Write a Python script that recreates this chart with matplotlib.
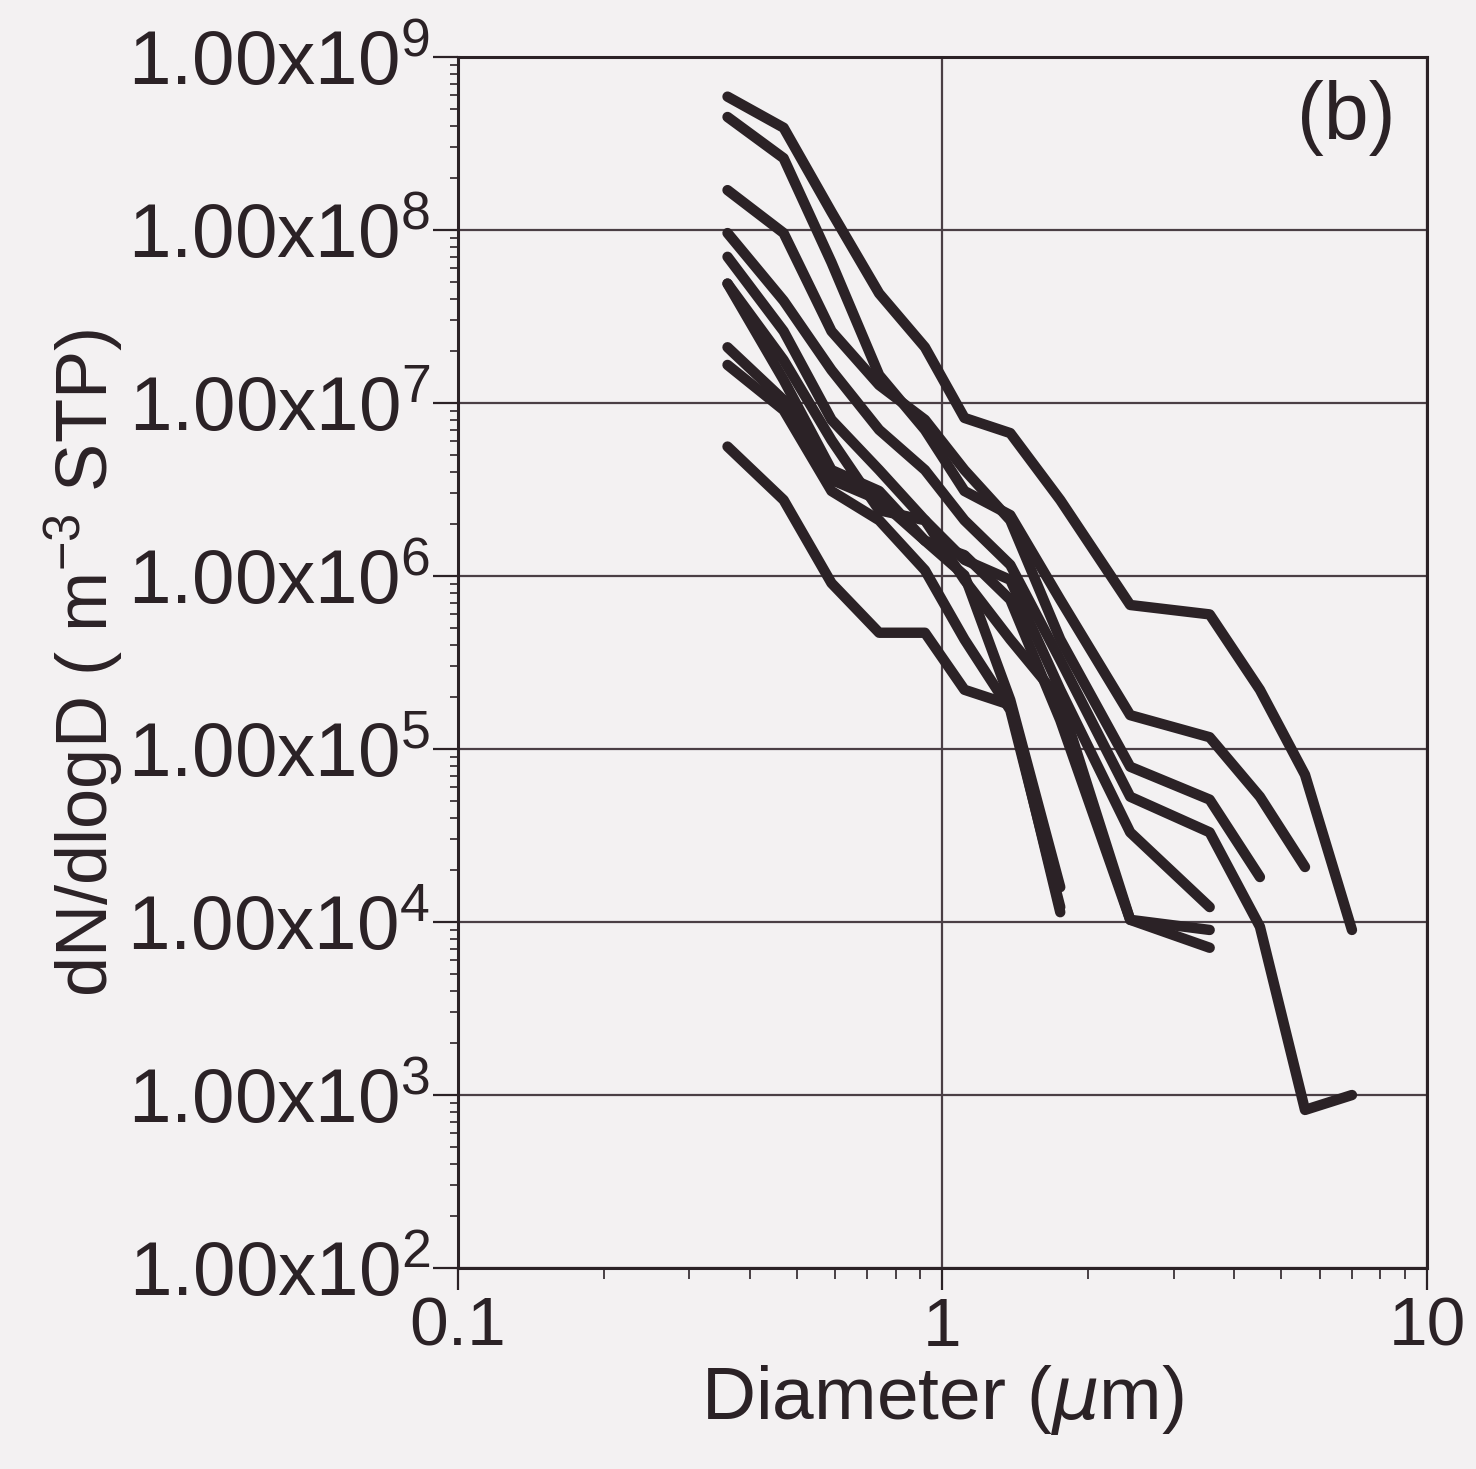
import numpy as np
import matplotlib
matplotlib.use("Agg")
import matplotlib.pyplot as plt
from matplotlib.ticker import FixedLocator, FuncFormatter, NullFormatter

plt.rcParams['font.family'] = ['Liberation Sans', 'DejaVu Sans']
plt.rcParams['mathtext.default'] = 'regular'

# ------------------ DATA ------------------ #
# size channels (um)
diam = [0.36, 0.47, 0.59, 0.74, 0.92, 1.11, 1.38, 1.75, 2.44, 3.56, 4.52, 5.6, 7.0]

# dN/dlogD (m^-3 STP), one list per size distribution
dist_a = [5.9e8, 3.9e8, 1.27e8, 4.3e7, 2.1e7, 8.2e6, 6.7e6, 2.75e6, 6.8e5, 6.0e5, 2.2e5, 7.1e4, 9.0e3]
dist_b = [4.5e8, 2.6e8, 6.5e7, 1.45e7, 7.0e6, 3.1e6, 2.25e6, 7.3e5, 1.57e5, 1.17e5, 5.3e4, 2.08e4]
dist_c = [1.7e8, 9.6e7, 2.6e7, 1.27e7, 8.0e6, 4.1e6, 2.1e6, 4.3e5, 7.9e4, 5.1e4, 1.82e4]
dist_d = [9.6e7, 3.9e7, 1.55e7, 7.0e6, 4.1e6, 2.1e6, 1.16e6, 3.27e5, 5.3e4, 3.3e4, 9.4e3, 8.2e2, 1.0e3]
dist_e = [7.0e7, 2.6e7, 8.0e6, 4.1e6, 2.1e6, 1.24e6, 9.5e5, 2.2e5, 3.3e4, 1.22e4]
dist_f = [4.9e7, 1.36e7, 4.1e6, 3.1e6, 1.6e6, 1.32e6, 7.3e5, 1.47e5, 1.03e4, 9.0e3]
dist_g = [4.9e7, 1.77e7, 6.1e6, 2.4e6, 2.1e6, 9.5e5, 4.3e5, 1.92e5, 1.03e4, 7.1e3]
dist_h = [2.1e7, 1.04e7, 3.6e6, 2.75e6, 1.6e6, 1.01e6, 1.92e5, 1.59e4]
dist_i = [1.66e7, 9.1e6, 3.1e6, 2.1e6, 1.08e6, 4.3e5, 1.68e5, 1.22e4]
dist_j = [5.6e6, 2.75e6, 9.1e5, 4.7e5, 4.7e5, 2.2e5, 1.8e5, 1.14e4]

all_dists = [dist_a, dist_b, dist_c, dist_d, dist_e, dist_f, dist_g, dist_h, dist_i, dist_j]

y_decades = [2, 3, 4, 5, 6, 7, 8, 9]
x_major = [0.1, 1, 10]
x_labels = ["0.1", "1", "10"]
panel_label = "(b)"

# ------------------ PLOTTING ------------------ #
bg = '#f3f1f2'
ink = '#2b2226'

fig = plt.figure(figsize=(14.76, 14.69), dpi=100, facecolor=bg)
ax = fig.add_axes([0.3103, 0.1368, 0.6565, 0.8244], facecolor=bg)

for d in all_dists:
    ax.plot(diam[:len(d)], d, color=ink, lw=7.5,
            solid_capstyle='round', solid_joinstyle='round')

ax.set_xscale('log')
ax.set_yscale('log')
ax.set_xlim(0.1, 10)
ax.set_ylim(1e2, 1e9)

# ticks only inside the shown range
y_major = [10.0 ** k for k in y_decades]
y_minor = [m * 10.0 ** k for k in y_decades[:-1] for m in range(2, 10)]
ax.yaxis.set_major_locator(FixedLocator(y_major))
ax.yaxis.set_minor_locator(FixedLocator(y_minor))
ax.yaxis.set_major_formatter(FuncFormatter(lambda v, p: r'$1.00x10^{%d}$' % round(np.log10(v))))
ax.yaxis.set_minor_formatter(NullFormatter())

x_minor = [m * 10.0 ** k for k in (-1, 0) for m in range(2, 10)]
ax.xaxis.set_major_locator(FixedLocator(x_major))
ax.xaxis.set_minor_locator(FixedLocator(x_minor))
ax.set_xticklabels(x_labels)
ax.xaxis.set_minor_formatter(NullFormatter())

ax.grid(True, which='major', color='#4a3f45', lw=1.6)
ax.set_axisbelow(True)

for s in ax.spines.values():
    s.set_color(ink)
    s.set_linewidth(2.2)

ax.tick_params(axis='y', which='major', direction='out', length=18, width=1.6,
               colors=ink, labelsize=55, pad=2)
ax.tick_params(axis='y', which='minor', direction='out', length=6, width=1.2, colors=ink)
ax.tick_params(axis='x', which='major', direction='out', length=16, width=1.6,
               colors=ink, labelsize=50, pad=4)
ax.tick_params(axis='x', which='minor', direction='out', length=8, width=1.2, colors=ink)

ax.set_xlabel(r'Diameter ($\mathit{\mu}$m)', fontsize=54, color=ink, labelpad=2)
ax.set_ylabel(r'dN/dlogD ( m$^{-3}$ STP)', fontsize=52, color=ink, labelpad=2)

ax.text(0.967, 0.95, panel_label, transform=ax.transAxes, ha='right', va='center',
        fontsize=58, color=ink)

fig.savefig('out.png', dpi=100, facecolor=bg)
